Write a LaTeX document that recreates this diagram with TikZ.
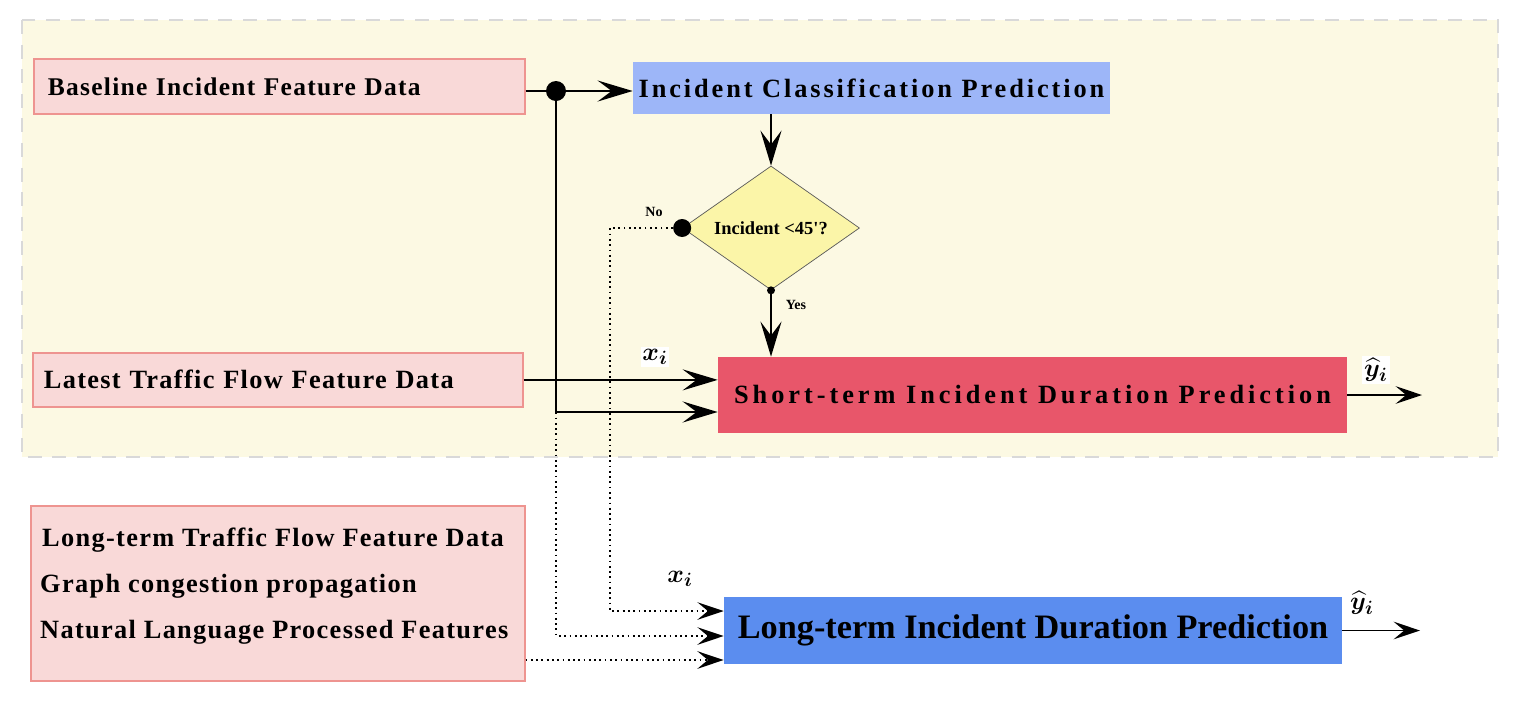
\documentclass[tikz,border=0pt]{standalone}
\usepackage{fontspec}
\usepackage{amsmath}
\setmainfont{Liberation Serif}
\newfontfamily\inputfont[LetterSpace=5]{Liberation Serif}
\newfontfamily\widefont[LetterSpace=11]{Liberation Serif}
\newfontfamily\widerfont[LetterSpace=15]{Liberation Serif}
\usetikzlibrary{arrows.meta, shapes.geometric}

\definecolor{bgyellow}{HTML}{FCF9E3}
\definecolor{inpink}{HTML}{F9D9D8}
\definecolor{inpinkline}{HTML}{EE9490}
\definecolor{clsblue}{HTML}{9DB6F8}
\definecolor{diayellow}{HTML}{FBF5A8}
\definecolor{strred}{HTML}{E8566A}
\definecolor{ltblue}{HTML}{5B8DEF}

\tikzset{
  inbox/.style={rectangle, draw=inpinkline, fill=inpink, line width=1pt, font=\inputfont\bfseries\fontsize{15}{17}\selectfont},
  inline/.style={anchor=west, font=\inputfont\bfseries\fontsize{15}{17}\selectfont},
  predbox/.style={rectangle, inner sep=0pt, font=\widefont\bfseries\fontsize{15}{18}\selectfont},
  bigarrow/.style={line width=1pt, -{Stealth[length=20pt, width=12pt, inset=8pt]}},
  smallarrow/.style={line width=1pt, -{Stealth[length=15pt, width=10pt, inset=6pt]}},
  dotline/.style={dotted, line width=1pt},
  bigdot/.style={circle, fill=black, inner sep=0pt},
  varlabel/.style={fill=white, inner sep=1pt, font=\fontsize{15}{17}\selectfont},
  branchlabel/.style={font=\bfseries\fontsize{8}{9}\selectfont}
}

\begin{document}
\begin{tikzpicture}[x=0.02cm, y=-0.02cm]
  % page and shaded short-term region
  \fill[white] (0,0) rectangle (1526,704);
  \useasboundingbox (0,0) rectangle (1526,704);
  \draw[fill=bgyellow, draw=gray!30, line width=0.8pt, dash pattern=on 8pt off 6pt] (22,20) rectangle (1498,457);
  % Input feature boxes
  \node[inbox, anchor=north west, inner xsep=0.28cm, minimum height=1.1cm, text width=9.26cm, align=left, font=\inputfont\bfseries\fontsize{14.5}{16}\selectfont] (base) at (33,58) {Baseline Incident Feature Data};
  \node[inbox, anchor=north west, inner xsep=0.22cm, minimum height=1.08cm, text width=9.36cm, align=left] (lat) at (32,352) {Latest Traffic Flow Feature Data};
  \node[inbox, anchor=north west, minimum width=9.88cm, minimum height=3.5cm] (feat) at (30,505) {};
  \node[inline] (longflow) at (36,540) {Long-term Traffic Flow Feature Data};
  \node[inline] (graphprop) at (34,586) {Graph congestion propagation};
  \node[inline] (nlpfeat) at (34,632) {Natural Language Processed Features};
  % Prediction boxes
  \node[predbox, fill=clsblue, minimum width=9.54cm, minimum height=1.04cm] (cls) at (871.5,88) {Incident Classification Prediction};
  \node[diamond, aspect=2, draw=gray!70!black, fill=diayellow, minimum width=3.54cm, minimum height=2.48cm, inner sep=0pt, font=\bfseries\fontsize{10.5}{12}\selectfont] (dia) at (771,228) {Incident <45\textquotesingle?};
  \node[predbox, fill=strred, minimum width=12.58cm, minimum height=1.52cm, font=\widerfont\bfseries\fontsize{15}{18}\selectfont] (st) at (1032.5,395) {Short-term Incident Duration Prediction};
  \node[predbox, fill=ltblue, minimum width=12.36cm, minimum height=1.34cm, font=\bfseries\fontsize{19.5}{22}\selectfont] (lt) at (1033,630.5) {Long-term Incident Duration Prediction};
  % Junction dots
  \node[bigdot, minimum size=0.4cm] (split) at (556,91) {};
  \node[bigdot, minimum size=0.36cm] (nodot) at (dia.west) {};
  \node[bigdot, minimum size=0.16cm] (yesdot) at (dia.south) {};
  % Solid connectors
  \draw[line width=1pt] (split -| base.east) -- (split);
  \draw[bigarrow] (split) -- (split -| cls.west);
  \draw[bigarrow] (cls.south -| dia.north) -- (dia.north);
  \draw[bigarrow] (dia.south) -- (dia.south |- st.north);
  \draw[bigarrow] (lat.east) -- (lat.east -| st.west);
  \draw[bigarrow] (split) |- ([yshift=-0.34cm]st.west);
  % Dotted connectors to long-term model
  \coordinate (nobend) at (610,228);
  \draw[dotline, smallarrow] (nodot) -- (nobend) |- ([yshift=0.39cm]lt.west);
  \draw[dotline, smallarrow] (split) |- ([yshift=-0.11cm]lt.west);
  \draw[dotline, smallarrow] ([yshift=-0.59cm]lt.west -| feat.east) -- ([yshift=-0.59cm]lt.west);
  % Outputs
  \coordinate (stout) at (1422,395);
  \coordinate (ltout) at (1420,630.5);
  \draw[smallarrow] (st.east) -- (stout);
  \draw[smallarrow] (lt.east) -- (ltout);
  % Labels
  \node[varlabel] (xst) at (655,357) {$\boldsymbol{x_i}$};
  \node[varlabel] (xlt) at (680,579) {$\boldsymbol{x_i}$};
  \node[varlabel] (yst) at (1376,370) {$\boldsymbol{\widehat{y}_i}$};
  \node[varlabel] (ylt) at (1362,603) {$\boldsymbol{\widehat{y}_i}$};
  \node[branchlabel] (nolabel) at (654,212) {No};
  \node[branchlabel] (yeslabel) at (796,305) {Yes};
\end{tikzpicture}
\end{document}
